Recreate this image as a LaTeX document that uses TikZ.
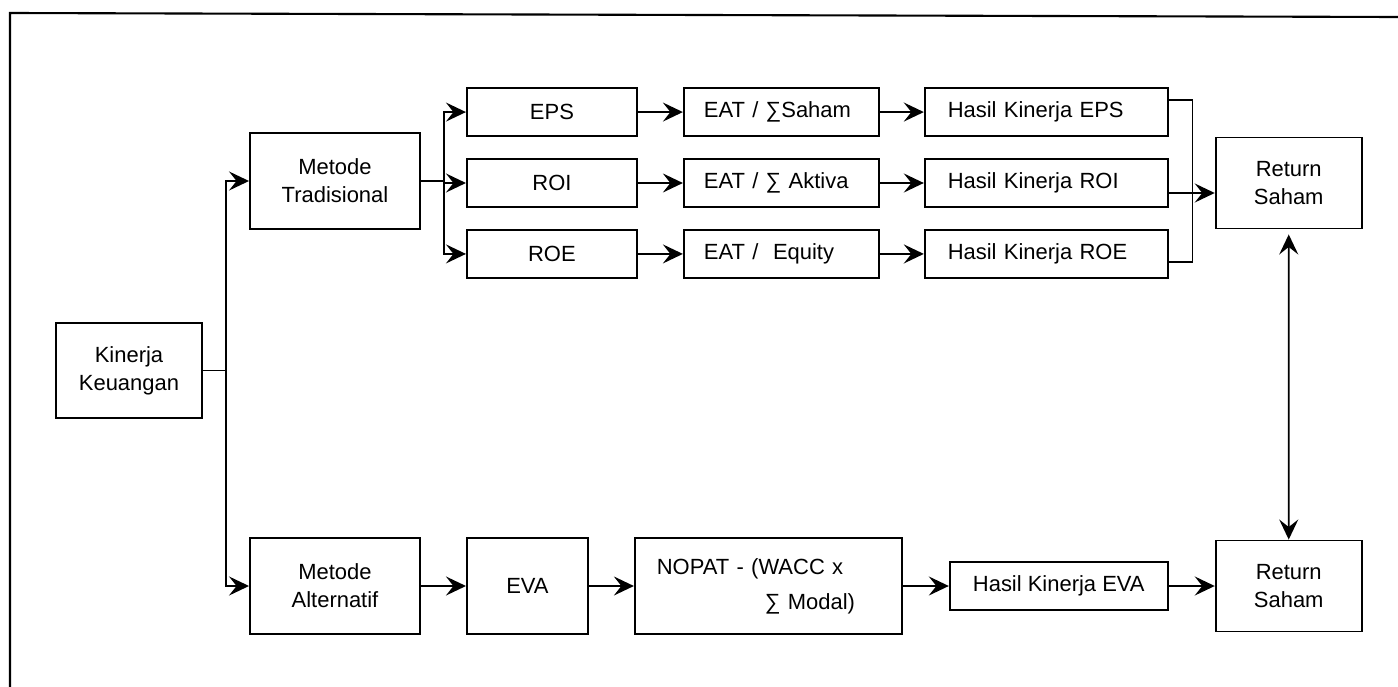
\documentclass[tikz,border=0pt]{standalone}
\usepackage{fontspec}
\setmainfont{Liberation Sans}
\usetikzlibrary{positioning,arrows.meta,calc}

\begin{document}
\begin{tikzpicture}[
  every node/.style={font=\fontsize{12.5}{16}\selectfont},
  box/.style={rectangle, draw=black, line width=1.1pt, align=center, inner sep=2pt},
  bigbox/.style={box, minimum width=3.4cm, minimum height=1.92cm},
  rowbox/.style={box, minimum width=3.4cm, minimum height=0.96cm},
  eatbox/.style={rowbox, minimum width=3.9cm, text width=3.1cm, align=left},
  hasbox/.style={rowbox, minimum width=4.86cm, text width=3.94cm, align=left},
  retbox/.style={box, minimum width=2.92cm, minimum height=1.82cm},
  flow/.style={-{Stealth[length=4mm, width=3.8mm, inset=1.5mm]}, line width=1pt},
  flowboth/.style={{Stealth[length=4mm, width=3.8mm, inset=1.5mm]}-{Stealth[length=4mm, width=3.8mm, inset=1.5mm]}, line width=1pt},
  link/.style={line width=0.8pt},
  frame/.style={line width=1.2pt}
]
  \useasboundingbox (0,0) rectangle (27.96,-13.74);
  \draw[frame] (27.96,-0.34) -- (0.2,-0.26) -- (0.2,-13.74);

  \node[box, minimum width=2.92cm, minimum height=1.9cm] (kin) at (2.58,-7.41) {Kinerja\\Keuangan};
  \node[bigbox] (mt) at (6.7,-3.62)  {Metode\\Tradisional};
  \node[bigbox] (ma) at (6.7,-11.72) {Metode\\Alternatif};

  % traditional branch
  \node[rowbox, right=0.9cm of mt, yshift=-0.04cm] (roi) {ROI};
  \node[rowbox, above=0.42cm of roi] (eps) {EPS};
  \node[rowbox, below=0.42cm of roi] (roe) {ROE};
  \node[eatbox, right=0.9cm of eps] (eat1) {EAT / ∑Saham};
  \node[eatbox, right=0.9cm of roi] (eat2) {EAT / ∑ Aktiva};
  \node[eatbox, right=0.9cm of roe] (eat3) {EAT /\ \ Equity};
  \node[hasbox, right=0.88cm of eat1] (has1) {Hasil Kinerja EPS};
  \node[hasbox, right=0.88cm of eat2] (has2) {Hasil Kinerja ROI};
  \node[hasbox, right=0.88cm of eat3] (has3) {Hasil Kinerja ROE};
  \node[retbox, right=0.92cm of has2] (ret1) {Return\\Saham};

  % alternative branch
  \node[bigbox, minimum width=2.42cm, right=0.9cm of ma] (eva) {EVA};
  \node[bigbox, minimum width=5.34cm, text width=4.46cm, align=left, right=0.9cm of eva] (nopat)
        {NOPAT - (WACC x\\[4pt]\hspace*{2.16cm}∑ Modal)};
  \node[rowbox, minimum width=4.36cm, right=0.92cm of nopat] (hev) {Hasil Kinerja EVA};
  \node[retbox, right=0.92cm of hev] (ret2) {Return\\Saham};

  \draw[flow] (kin.east) -- ++(0.46,0) coordinate (trunk) |- (mt.west);
  \draw[flow] (trunk) |- (ma.west);
  \draw[flow] (mt.east) -- ++(0.46,0) coordinate (fork) |- (eps.west);
  \draw[flow] (fork) |- (roi.west);
  \draw[flow] (fork) |- (roe.west);
  \draw[flow] (eps) -- (eat1);
  \draw[flow] (roi) -- (eat2);
  \draw[flow] (roe) -- (eat3);
  \draw[flow] (eat1) -- (has1);
  \draw[flow] (eat2) -- (has2);
  \draw[flow] (eat3) -- (has3);
  \draw[link] ([yshift=0.24cm]has1.east) -- ++(0.48,0) |- ([yshift=-0.16cm]has3.east);
  \draw[flow, line width=0.8pt] ([yshift=-0.2cm]has2.east) -- ([yshift=-0.2cm]has2.east -| ret1.west);
  \draw[flowboth, shorten <=0.1cm] (ret1.south) -- (ret2.north);

  \draw[flow] (ma) -- (eva);
  \draw[flow] (eva) -- (nopat);
  \draw[flow] (nopat) -- (hev);
  \draw[flow] (hev) -- (ret2);
\end{tikzpicture}
\end{document}
